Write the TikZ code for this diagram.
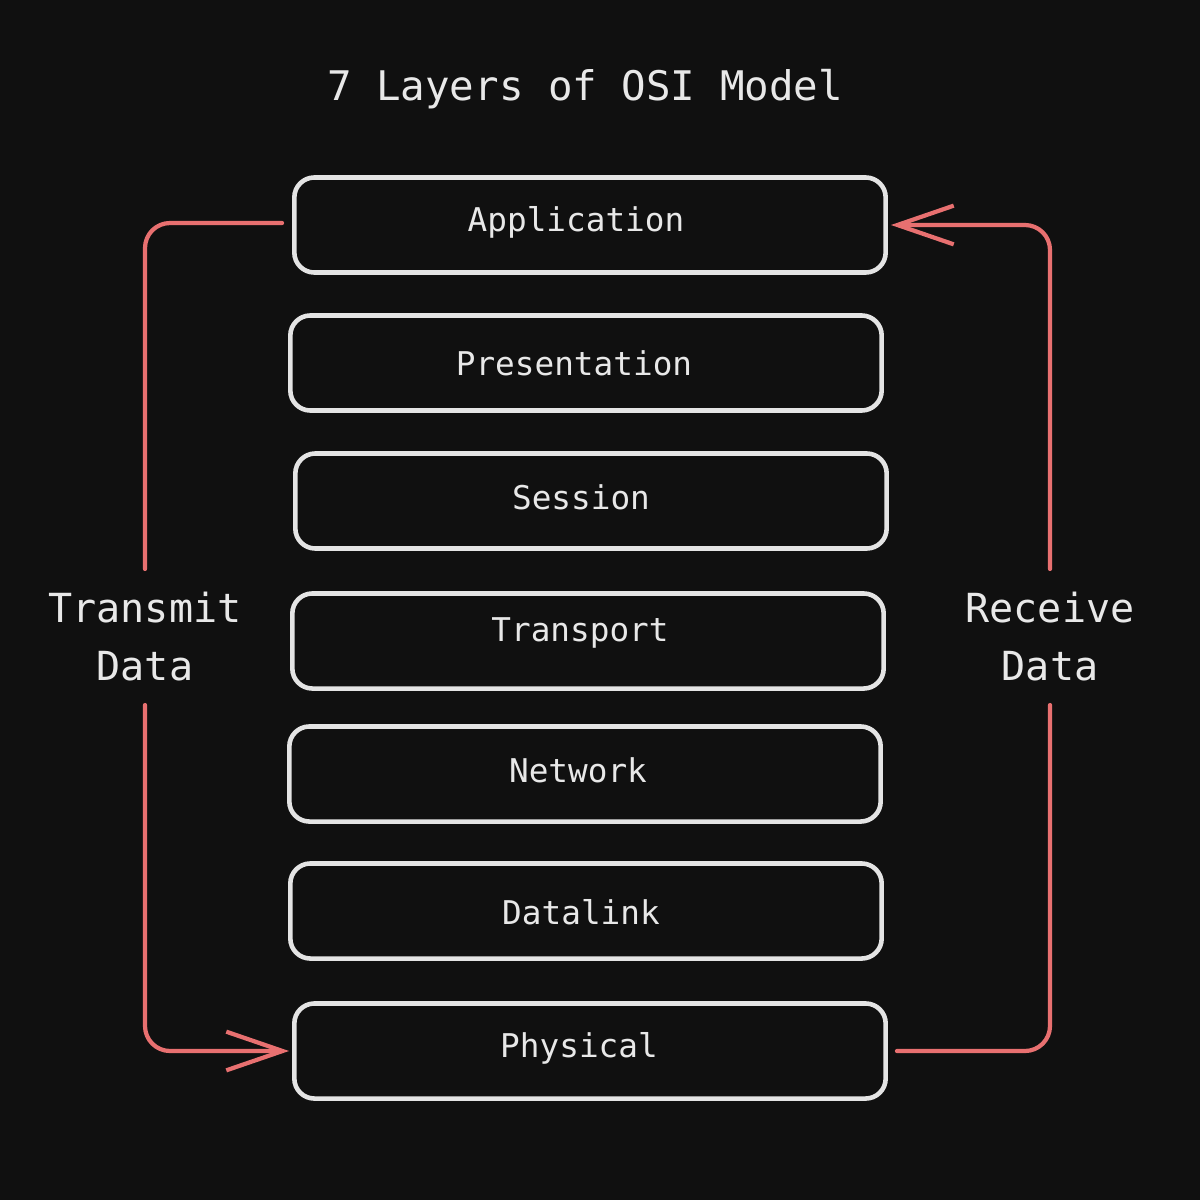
\documentclass[tikz,border=0pt]{standalone}
\usepackage{fontspec}
\setmonofont{DejaVu Sans Mono}
\usetikzlibrary{arrows.meta,calc}
\definecolor{bgc}{HTML}{101010}
\definecolor{boxc}{HTML}{E4E4E4}
\definecolor{txtc}{HTML}{E8E8E8}
\definecolor{redc}{HTML}{E87070}
\tikzset{
  layer/.style={draw=boxc, line width=1.3pt, rounded corners=0.2cm,
    minimum width=5.91cm, minimum height=0.95cm, inner sep=0pt},
  lbl/.style={text=txtc, font=\ttfamily\fontsize{9.3}{11}\selectfont, inner sep=0pt},
  side/.style={text=txtc, font=\ttfamily\fontsize{11.4}{16.5}\selectfont,
    align=center, minimum height=1.36cm, inner sep=0pt, outer sep=0pt},
  redline/.style={draw=redc, line width=1.2pt, line cap=round, line join=round,
    rounded corners=0.25cm},
  tip/.style={-{Straight Barb[length=16pt,width=11pt,line width=1.2pt]}}
}
\begin{document}
\begin{tikzpicture}[x=0.01cm,y=-0.01cm]
\fill[bgc] (0,0) rectangle (1200,1200);
\useasboundingbox (0,0) rectangle (1200,1200);

\node[text=txtc, font=\ttfamily\fontsize{11.6}{14}\selectfont] (title) at (585,89) {7 Layers of OSI Model};

\node[layer] (app)  at (590,225)  {};
\node[layer] (pres) at (586,363)  {};
\node[layer] (sess) at (591,501)  {};
\node[layer] (trans) at (588,641) {};
\node[layer] (net)  at (585,774)  {};
\node[layer] (dl)   at (586,911)  {};
\node[layer] (phys) at (590,1051) {};

\node[lbl] (tapp)  at ($(app.center)+(-14,-3)$)  {Application};
\node[lbl] (tpres) at ($(pres.center)+(-12,0)$)  {Presentation};
\node[lbl] (tsess) at ($(sess.center)+(-10,-4)$) {Session};
\node[lbl] (ttrans) at ($(trans.center)+(-8,-8)$) {Transport};
\node[lbl] (tnet)  at ($(net.center)+(-7,-4)$)   {Network};
\node[lbl] (tdl)   at ($(dl.center)+(-5,1)$)     {Datalink};
\node[lbl] (tphys) at ($(phys.center)+(-11,-3)$) {Physical};

\node[side] (tx) at (145,637) {Transmit\\Data};
\node[side] (rx) at (1050,637) {Receive\\Data};

% transmit side
\draw[redline] ($(app.west)+(-10,-2)$) -| (tx.north);
\draw[redline,tip] (tx.south) |- ($(phys.west)+(-3,0)$);

% receive side
\draw[redline] ($(phys.east)+(9,0)$) -| (rx.south);
\draw[redline,tip] (rx.north) |- ($(app.east)+(3,0)$);
\end{tikzpicture}
\end{document}
